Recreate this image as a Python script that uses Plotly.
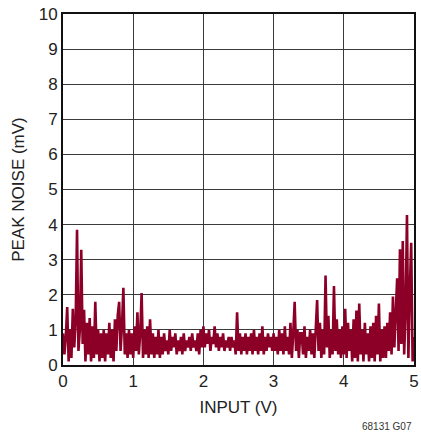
import plotly.graph_objects as go

# Input voltage sweep (V), 0.02 V steps from 0 to 5 V
input_v = [round(0.02 * i, 2) for i in range(251)]

# Peak noise (mV) at each input step
peak_noise_mv = [
    0.9, 0.3, 0.8, 1.65, 0.1, 1.0, 0.2, 1.6, 0.5, 1.2,
    3.85, 0.4, 1.0, 3.28, 0.6, 1.57, 0.1, 1.2, 0.3, 1.34,
    0.1, 1.1, 0.2, 1.8, 0.3, 1.0, 0.1, 0.9, 0.2, 1.0,
    0.1, 0.9, 0.3, 1.2, 0.2, 1.0, 0.1, 1.3, 0.4, 1.42,
    1.8, 0.4, 1.1, 2.2, 0.3, 0.9, 0.2, 1.0, 0.3, 0.9,
    0.2, 1.1, 0.4, 1.5, 0.3, 0.9, 2.05, 0.2, 1.0, 0.3,
    1.1, 0.2, 1.3, 0.3, 0.9, 0.2, 0.8, 0.3, 1.0, 0.2,
    0.8, 0.3, 0.9, 0.4, 0.7, 0.3, 1.0, 0.4, 0.8, 0.5,
    0.9, 0.3, 0.7, 0.4, 0.8, 0.3, 0.9, 0.4, 0.7, 0.5,
    0.8, 0.4, 0.9, 0.5, 0.7, 0.4, 0.9, 0.3, 1.0, 0.5,
    1.1, 0.5, 0.9, 0.6, 1.0, 0.4, 0.8, 0.6, 1.1, 0.5,
    0.9, 0.4, 0.8, 0.5, 0.9, 0.4, 0.7, 0.5, 0.8, 0.4,
    0.8, 0.5, 0.7, 0.3, 1.5, 0.4, 0.9, 0.3, 0.8, 0.4,
    0.9, 0.3, 0.8, 0.4, 0.9, 0.3, 1.0, 0.4, 0.8, 0.3,
    0.9, 0.4, 1.1, 0.3, 0.8, 0.4, 0.9, 0.5, 0.8, 0.4,
    0.9, 0.4, 0.8, 0.3, 1.0, 0.4, 0.9, 0.3, 1.1, 0.4,
    0.8, 0.3, 1.2, 0.2, 0.9, 1.8, 0.4, 1.0, 0.2, 0.9,
    0.9, 0.3, 1.1, 0.2, 0.8, 0.4, 1.0, 0.3, 0.9, 0.2,
    1.0, 1.85, 0.4, 1.2, 0.2, 1.0, 0.3, 2.55, 0.5, 1.4,
    0.2, 1.0, 0.3, 2.25, 0.4, 1.3, 0.3, 1.0, 0.2, 1.1,
    0.3, 1.6, 0.2, 1.2, 0.4, 1.0, 0.1, 1.3, 0.2, 1.55,
    0.1, 1.75, 0.3, 1.0, 0.1, 1.2, 0.3, 0.9, 0.1, 1.1,
    0.2, 1.2, 0.1, 1.4, 0.3, 1.75, 0.1, 1.0, 0.2, 1.1,
    0.2, 1.2, 0.4, 1.5, 0.3, 1.95, 0.5, 1.3, 2.47, 0.4,
    3.3, 0.6, 3.53, 0.3, 1.5, 4.27, 0.2, 2.1, 3.48, 0.1,
    0.8,
]

x_ticks = [0, 1, 2, 3, 4, 5]
y_ticks = list(range(0, 11))

FONT = "Liberation Sans Narrow, Liberation Sans, Arial, sans-serif"

fig = go.Figure()
fig.add_trace(go.Scatter(
    x=input_v, y=peak_noise_mv, mode="lines",
    line=dict(color="#8c0028", width=2.6),
    showlegend=False, hoverinfo="skip",
))

axis_common = dict(
    showgrid=True, gridcolor="#3a3a3a", gridwidth=1,
    showline=True, linecolor="#111111", linewidth=2, mirror=True,
    zeroline=False, ticks="", automargin=False,
    tickfont=dict(family=FONT, size=17, color="#222"),
)

fig.update_layout(
    width=421, height=434,
    margin=dict(l=63, r=7, t=14, b=69),
    paper_bgcolor="white", plot_bgcolor="white",
    font=dict(family=FONT, color="#222"),
    xaxis=dict(range=[0, 5], tickvals=x_ticks, ticktext=[str(v) for v in x_ticks],
               title=dict(text="INPUT (V)", font=dict(family=FONT, size=17, color="#222"), standoff=11),
               **axis_common),
    yaxis=dict(range=[0, 10], tickvals=y_ticks, ticktext=[str(v) for v in y_ticks],
               title=dict(text="PEAK NOISE (mV)", font=dict(family=FONT, size=17, color="#222"), standoff=10),
               **axis_common),
)

fig.add_annotation(
    text="68131 G07", xref="paper", yref="paper", x=1.0, y=-0.155,
    xanchor="right", yanchor="top", showarrow=False,
    font=dict(family=FONT, size=10, color="#333"),
)

fig.write_html("out.html")
